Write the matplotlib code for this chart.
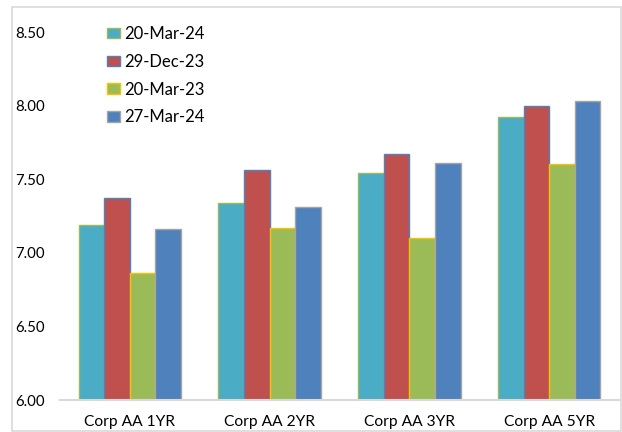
import numpy as np
import matplotlib.pyplot as plt
from matplotlib.patches import Rectangle

plt.rcParams['font.family'] = ['Lato', 'DejaVu Sans']

categories = ['Corp AA 1YR', 'Corp AA 2YR', 'Corp AA 3YR', 'Corp AA 5YR']
series_names = ['20-Mar-24', '29-Dec-23', '20-Mar-23', '27-Mar-24']
s_20mar24 = [7.19, 7.34, 7.54, 7.92]
s_29dec23 = [7.37, 7.56, 7.67, 8.00]
s_20mar23 = [6.86, 7.17, 7.10, 7.60]
s_27mar24 = [7.16, 7.31, 7.61, 8.03]
yticks = [6.00, 6.50, 7.00, 7.50, 8.00, 8.50]

series = [s_20mar24, s_29dec23, s_20mar23, s_27mar24]
faces = ['#4BACC6', '#C0504D', '#9BBB59', '#4F81BD']
edges = ['#9BBB59', '#4F81BD', '#FFC000', '#A5A5A5']

fig = plt.figure(figsize=(6.22, 4.32), dpi=100)
# outer chart border
fig.patches.append(Rectangle((12 / 622, 1 / 432), 609 / 622, 424 / 432,
                             transform=fig.transFigure, fill=False,
                             edgecolor='#D9D9D9', linewidth=1.2))

ax = fig.add_axes([60 / 622, 32 / 432, 559 / 622, 368 / 432])

x = np.arange(len(categories))
w = 0.183
for i, (vals, name) in enumerate(zip(series, series_names)):
    ax.bar(x + (i - 1.5) * w, np.array(vals) - 6.0, width=w, bottom=6.0,
           color=faces[i], edgecolor=edges[i], linewidth=1.0, label=name)

ax.set_xlim(-0.5, len(categories) - 0.5)
ax.set_ylim(6.0, 8.5)
ax.set_yticks(yticks)
ax.set_yticklabels(['%.2f' % v for v in yticks])
ax.set_xticks(x)
ax.set_xticklabels(categories)
ax.tick_params(axis='y', length=0, pad=11, labelsize=10.8)
ax.tick_params(axis='x', length=0, pad=11, labelsize=11.2)
for s in ['top', 'right', 'left']:
    ax.spines[s].set_visible(False)
ax.spines['bottom'].set_color('#D9D9D9')
ax.spines['bottom'].set_linewidth(1.5)

ax.legend(loc='upper left', bbox_to_anchor=(107 / 622, 1 - 26 / 432),
          bbox_transform=fig.transFigure, frameon=False, fontsize=12,
          handlelength=0.75, handleheight=0.6, handletextpad=0.3,
          labelspacing=0.71, borderpad=0, borderaxespad=0)

fig.savefig('out.png', dpi=100)
